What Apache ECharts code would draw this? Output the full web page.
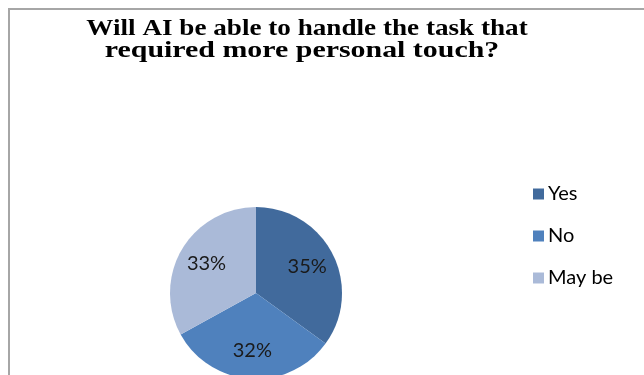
<!DOCTYPE html>
<html>
<head>
<meta charset="utf-8">
<script src="https://cdn.jsdelivr.net/npm/echarts@6/dist/echarts.min.js"></script>
<style>
  html, body { margin: 0; padding: 0; background: #ffffff; }
  #chart { width: 644px; height: 375px; }
</style>
</head>
<body>
<div id="chart"></div>
<script>
// Survey answers and their shares (percent)
const answers = ['Yes', 'No', 'May be'];
const shares = [35, 32, 33];
const sliceColors = ['#416a9c', '#4f81bd', '#aabad8'];
const titleLines = ['Will AI be able to handle the task that', 'required more personal touch?'];

const pieData = answers.map((name, i) => ({ name: name, value: shares[i] }));
const center = [256, 293];

const titleFont = {
  fontFamily: '"Liberation Serif", "Times New Roman", serif',
  fontWeight: 'bold',
  fontSize: 23,
  fill: '#000000',
  align: 'center',
  verticalAlign: 'middle'
};

const chart = echarts.init(document.getElementById('chart'), null, { renderer: 'canvas' });
chart.setOption({
  backgroundColor: '#ffffff',
  animation: false,
  color: sliceColors,
  graphic: [
    {
      type: 'rect',
      shape: { x: 9, y: 9, width: 800, height: 500 },
      style: { fill: 'none', stroke: '#a6a6a6', lineWidth: 2 },
      silent: true,
      z: -1
    },
    // two-line heading, drawn wide
    {
      type: 'text',
      x: 307, y: 29,
      scaleX: 1.18,
      style: Object.assign({ text: titleLines[0] }, titleFont),
      silent: true
    },
    {
      type: 'text',
      x: 302, y: 51,
      scaleX: 1.3,
      style: Object.assign({ text: titleLines[1] }, titleFont),
      silent: true
    }
  ],
  legend: {
    orient: 'vertical',
    left: 533,
    top: 184,
    padding: 0,
    itemWidth: 11,
    itemHeight: 11,
    itemGap: 22,
    icon: 'rect',
    data: answers,
    textStyle: {
      fontFamily: 'Lato, "Open Sans", sans-serif',
      fontSize: 20,
      lineHeight: 20,
      color: '#000000',
      padding: [0, 0, 0, -1]
    }
  },
  series: [
    {
      // filled slices
      type: 'pie',
      center: center,
      radius: [0, 86],
      startAngle: 90,
      clockwise: true,
      silent: true,
      label: { show: false },
      labelLine: { show: false },
      data: pieData
    },
    {
      // percentage labels, placed a bit further out than the slice midpoint
      type: 'pie',
      center: center,
      radius: [23, 86],
      startAngle: 90,
      clockwise: true,
      silent: true,
      legendHoverLink: false,
      itemStyle: { color: 'rgba(0,0,0,0)' },
      label: {
        show: true,
        position: 'inner',
        formatter: p => p.value + '%',
        fontFamily: 'Lato, "Open Sans", sans-serif',
        fontSize: 20,
        color: '#1a1a1a'
      },
      labelLine: { show: false },
      data: pieData
    }
  ]
});
</script>
</body>
</html>
